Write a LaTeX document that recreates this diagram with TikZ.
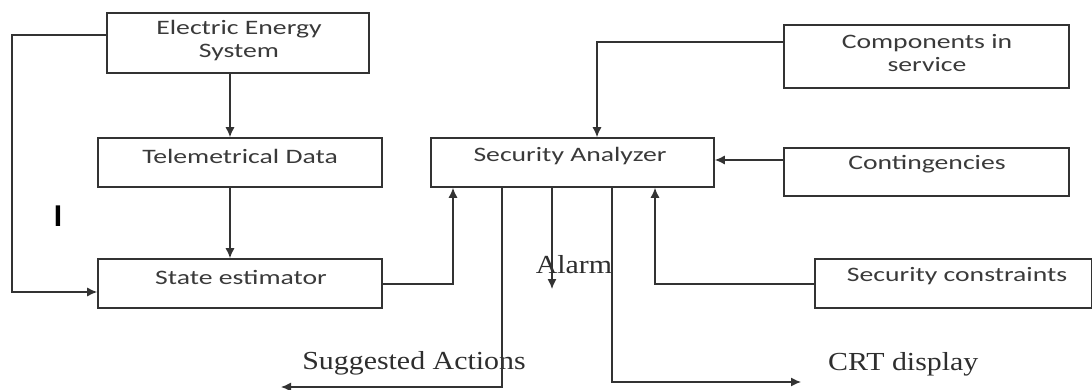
\documentclass[tikz,border=0pt]{standalone}
\usepackage{fontspec}
\usetikzlibrary{arrows.meta}
\newfontfamily\boxfont[FakeStretch=1.35]{Carlito}
\newfontfamily\labfont[FakeStretch=1.15]{Liberation Serif}
\newfontfamily\ifont{Liberation Sans}
\definecolor{edge}{HTML}{333333}
\definecolor{btext}{HTML}{3A3A3A}
\definecolor{stext}{HTML}{2E2E2E}
\tikzset{
  box/.style={draw=edge, line width=1.6pt, inner sep=0pt},
  btxt/.style={text=btext, font=\boxfont\fontsize{20.5}{23}\selectfont, align=center, inner sep=0pt},
  ltxt/.style={text=stext, font=\labfont\fontsize{26}{28}\selectfont, inner sep=0pt},
  conn/.style={draw=edge, line width=1.3pt},
  arr/.style={conn, -{Latex[length=10pt,width=9pt]}},
}
\begin{document}
\begin{tikzpicture}[x=1pt,y=-1pt]
\useasboundingbox[fill=white] (0,0) rectangle (1092,390);
% boxes
\node[box, minimum width=262pt, minimum height=60pt] (ees) at (238,43) {};
\node[btxt] (eest) at (239,41) {Electric Energy\\System};
\node[box, minimum width=284pt, minimum height=49pt] (tel) at (240,162.5) {};
\node[btxt] (telt) at (240,156) {Telemetrical Data};
\node[box, minimum width=284pt, minimum height=49pt] (ste) at (240,283.5) {};
\node[btxt] (stet) at (241,277) {State estimator};
\node[box, minimum width=283pt, minimum height=49pt] (sa) at (572.5,162.5) {};
\node[btxt] (sat) at (570,156) {Security Analyzer};
\node[box, minimum width=285pt, minimum height=63pt] (comp) at (926.5,56.5) {};
\node[btxt] (compt) at (927,53.5) {Components in\\service};
\node[box, minimum width=285pt, minimum height=48pt] (cont) at (926.5,172) {};
\node[btxt] (contt) at (927,164) {Contingencies};
\node[box, minimum width=277pt, minimum height=49pt] (secc) at (953.5,283.5) {};
\node[btxt] (secct) at (957,276) {Security constraints};
% labels
\node[ltxt] (alarm) at (574,265) {Alarm};
\node[ltxt] (sugg) at (414,363) {Suggested Actions};
\node[ltxt, anchor=west] (crt) at (828,364) {CRT display};
\node[text=black, font=\ifont\bfseries\fontsize{30}{30}\selectfont, inner sep=0pt] (ilab) at (58,216) {I};
% helper coordinates
\coordinate (x230) at (230,0);
\coordinate (x453) at (453,0);
\coordinate (x502) at (502,0);
\coordinate (x552) at (552,0);
\coordinate (x597) at (597,0);
\coordinate (x612) at (612,0);
\coordinate (x655) at (655,0);
\coordinate (fb1) at (12,35);
\coordinate (fb2) at (12,292);
\coordinate (sg1) at (502,387);
\coordinate (sgend) at (281,387);
\coordinate (alend) at (552,289);
\coordinate (cr1) at (612,382);
\coordinate (crend) at (801,382);
% connectors
\draw[arr] ([yshift=8pt]ees.west) -- (fb1) -- (fb2) -- ([yshift=-8.5pt]ste.west);
\draw[arr] (ees.south -| x230) -- (tel.north -| x230);
\draw[arr] (tel.south -| x230) -- (ste.north -| x230);
\draw[arr] ([yshift=-0.5pt]ste.east) -| (sa.south -| x453);
\draw[arr] ([yshift=14.5pt]comp.west) -| (sa.north -| x597);
\draw[arr] ([yshift=12pt]cont.west) -- ([yshift=2.5pt]sa.east);
\draw[arr] ([yshift=-0.5pt]secc.west) -| (sa.south -| x655);
\draw[arr] (sa.south -| x502) -- (sg1) -- (sgend);
\draw[arr] (sa.south -| x552) -- (alend);
\draw[arr] (sa.south -| x612) -- (cr1) -- (crend);
\end{tikzpicture}
\end{document}
